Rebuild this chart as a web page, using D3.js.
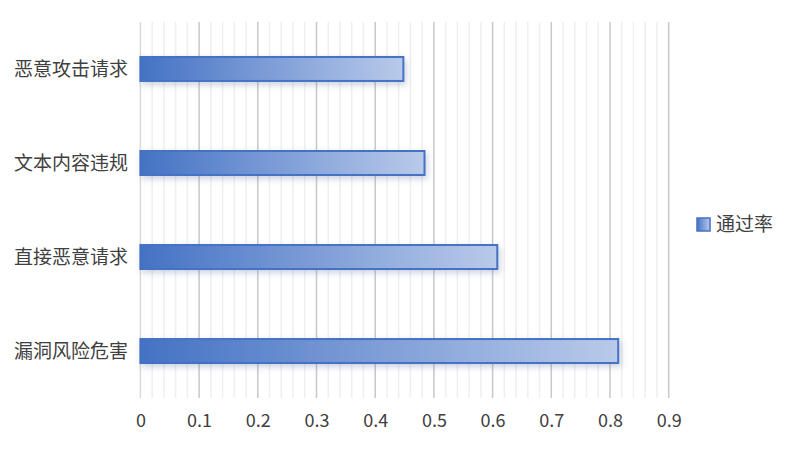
<!DOCTYPE html>
<html><head><meta charset="utf-8">
<script src="https://cdn.jsdelivr.net/npm/d3@7/dist/d3.min.js"></script>
<style>body{margin:0;background:#fff;}svg{display:block;font-family:"Microsoft YaHei","Noto Sans CJK SC",sans-serif;}</style>
</head><body>
<svg id="c" width="792" height="451"></svg>
<script>
const categories = ["恶意攻击请求","文本内容违规","直接恶意请求","漏洞风险危害"];
const passRate = [0.448, 0.484, 0.608, 0.814];
const seriesName = "通过率";
const tickValues = [0,0.1,0.2,0.3,0.4,0.5,0.6,0.7,0.8,0.9];

const svg = d3.select("#c");
const m = {left:140.4, right:668.7, top:22, bottom:398};
const x = d3.scaleLinear().domain([0,0.9]).range([m.left, m.right]);
const y = d3.scaleBand().domain(categories).range([m.top, m.bottom]).paddingInner(0.745).paddingOuter(0.372);
const FONT = '"Microsoft YaHei","Noto Sans CJK SC",sans-serif';

const defs = svg.append("defs");
const g = defs.append("linearGradient").attr("id","grad").attr("x1","0").attr("x2","1").attr("y1","0").attr("y2","0");
g.append("stop").attr("offset","0%").attr("stop-color","#4472C4");
g.append("stop").attr("offset","100%").attr("stop-color","#B9CAEA");
const f = defs.append("filter").attr("id","sh").attr("x","-10%").attr("y","-50%").attr("width","130%").attr("height","250%");
f.append("feDropShadow").attr("dx",2).attr("dy",3).attr("stdDeviation",3).attr("flood-color","#5a6f9a").attr("flood-opacity",0.3);

const legSq = defs.append("linearGradient").attr("id","lg").attr("x1","0").attr("x2","1");
legSq.append("stop").attr("offset","0%").attr("stop-color","#4472C4");
legSq.append("stop").attr("offset","100%").attr("stop-color","#B9CAEA");

// minor grid
const minor = d3.range(0, 0.9001, 0.02).filter(v => Math.abs(Math.round(v*10)-v*10) > 1e-6);
svg.append("g").selectAll("line").data(minor).join("line")
  .attr("x1", d=>x(d)).attr("x2", d=>x(d)).attr("y1", m.top).attr("y2", m.bottom)
  .attr("stroke","#efefef").attr("stroke-width",1.5);
// major grid
svg.append("g").selectAll("line").data(tickValues).join("line")
  .attr("x1", d=>x(d)).attr("x2", d=>x(d)).attr("y1", m.top).attr("y2", m.bottom)
  .attr("stroke", d=> d===0 ? "#d9d9d9" : "#c8c8c8").attr("stroke-width",1.5);

// bars
svg.append("g").selectAll("rect").data(categories).join("rect")
  .attr("x", x(0)).attr("y", d=>y(d))
  .attr("width", (d,i)=>x(passRate[i])-x(0)).attr("height", y.bandwidth())
  .attr("fill","url(#grad)").attr("stroke","#4472C4").attr("stroke-width",2)
  .attr("filter","url(#sh)");

// x axis labels
const xAxis = d3.axisBottom(x).tickValues(tickValues).tickFormat(d3.format("")).tickSize(0).tickPadding(0);
const xa = svg.append("g").attr("transform",`translate(0,${414})`).call(xAxis);
xa.select(".domain").remove();
xa.selectAll("text").attr("font-size",18).attr("fill","#404040").attr("dy","0.71em").style("font-family",FONT);

// y labels
const yAxis = d3.axisLeft(y).tickSize(0).tickPadding(0);
const ya = svg.append("g").attr("transform",`translate(128,0)`).call(yAxis);
ya.select(".domain").remove();
ya.selectAll("text").attr("font-size",19).attr("fill","#404040").attr("dy","0.35em").style("font-family",FONT);

// legend
const leg = svg.append("g").attr("transform","translate(697,218)");
leg.append("rect").attr("width",13).attr("height",13).attr("fill","url(#lg)").attr("stroke","#4472C4").attr("stroke-width",1.5);
leg.append("text").attr("x",19).attr("y",6.5).attr("dy","0.35em").attr("font-size",19).attr("fill","#404040").style("font-family",FONT).text(seriesName);
</script>
</body></html>
